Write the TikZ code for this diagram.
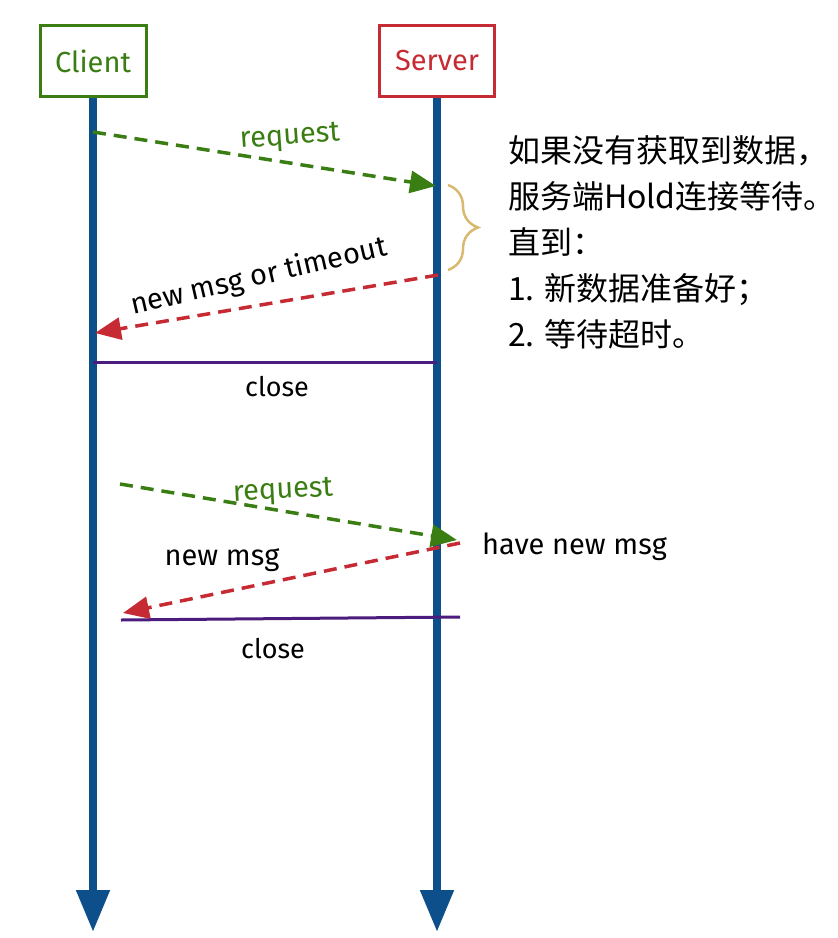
\documentclass[tikz,border=0pt]{standalone}
\usepackage{fontspec}
\setmainfont{Fira Sans}
\newfontfamily\cjk{Noto Sans CJK SC}
\usetikzlibrary{arrows.meta,decorations.pathreplacing}
\definecolor{lifeblue}{HTML}{0D4F8B}
\definecolor{reqgreen}{HTML}{3A7D12}
\definecolor{resred}{HTML}{C62A32}
\definecolor{closepurple}{HTML}{4B1C7D}
\definecolor{bracegold}{HTML}{D9B870}
\tikzset{
  actor/.style = {draw=#1, text=#1, line width=3pt, minimum height=71pt,
                  inner sep=0pt, font=\fontsize{29}{32}\selectfont},
  lifeline/.style = {draw=lifeblue, line width=8pt,
                  -{Triangle[length=42pt,width=32pt]}},
  msg/.style = {draw=#1, line width=3.5pt, dash pattern=on 13pt off 8pt,
                  -{Triangle[length=26pt,width=22pt]}},
  closeline/.style = {draw=closepurple, line width=3pt},
  lbl/.style = {inner sep=0pt, font=\fontsize{29}{32}\selectfont}
}

\begin{document}
\begin{tikzpicture}[x=1pt,y=-1pt]
	\def \xc{93}
	\def \xs{437}
	\def \yend{932}

	\useasboundingbox (0,0) rectangle (838,938);

	% Actors
	\node[actor=reqgreen, minimum width=106pt] (client) at (\xc,61) {Client};
	\node[actor=resred, minimum width=115pt] (server) at (\xs,61) {Server};

	% Lifelines
	\coordinate (cend) at (\xc,\yend);
	\coordinate (send) at (\xs,\yend);
	\draw[lifeline] (client.south) -- (cend);
	\draw[lifeline] (server.south) -- (send);

	% First round (hold)
	\coordinate (c1) at (\xc,132);
	\coordinate (s1) at (\xs-1,186);
	\coordinate (s2) at (\xs+1,275);
	\coordinate (c2) at (\xc+2,333);
	\coordinate (c3) at (\xc,362);
	\coordinate (s3) at (\xs,362);
	\draw[msg=reqgreen] (c1) -- (s1);
	\node[lbl, text=reqgreen, rotate=4] (req1) at (290,138) {request};
	\draw[msg=resred] (s2) -- (c2);
	\node[lbl, rotate=13] (resp1) at (259,277) {new msg or timeout};
	\draw[closeline] (c3) -- (s3);
	\node[lbl, font=\fontsize{27}{30}\selectfont] (close1) at (277,387) {close};

	% Hold brace + note
	\draw[bracegold, line width=2.5pt, decorate,
	      decoration={brace, amplitude=30pt}] (448,185) -- (448,270);
	\node[inner sep=0pt, anchor=north west, align=left,
	      font=\cjk\fontsize{32}{46}\selectfont] (note) at (508,135)
	      {如果没有获取到数据，\\服务端Hold连接等待。\\直到：\\1. 新数据准备好；\\2. 等待超时。};

	% Second round (new msg)
	\coordinate (c4) at (120,484);
	\coordinate (s4) at (457,540);
	\coordinate (s5) at (460,543);
	\coordinate (c5) at (123,613);
	\coordinate (c6) at (121,620);
	\coordinate (s6) at (460,617);
	\draw[msg=reqgreen] (c4) -- (s4);
	\node[lbl, text=reqgreen, rotate=3] (req2) at (283,492) {request};
	\draw[msg=resred] (s5) -- (c5);
	\node[lbl] (resp2) at (222,560) {new msg};
	\node[lbl, anchor=west] (have) at (482,547) {have new msg};
	\draw[closeline] (c6) -- (s6);
	\node[lbl, font=\fontsize{27}{30}\selectfont] (close2) at (273,649) {close};

\end{tikzpicture}
\end{document}
